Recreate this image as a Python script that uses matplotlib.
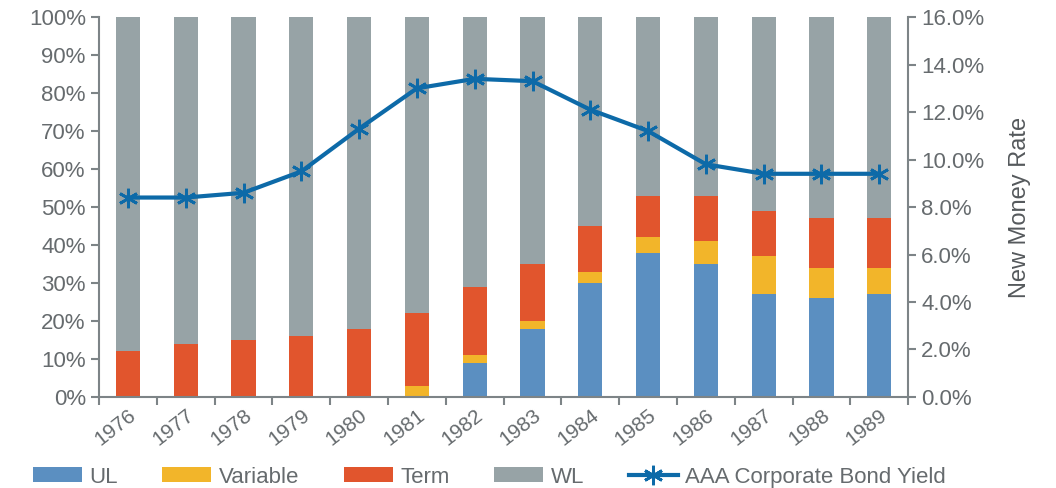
import matplotlib
matplotlib.use("Agg")
import matplotlib.pyplot as plt
import numpy as np
from matplotlib.ticker import FuncFormatter

years = ["1976", "1977", "1978", "1979", "1980", "1981", "1982",
         "1983", "1984", "1985", "1986", "1987", "1988", "1989"]
ul = [0, 0, 0, 0, 0, 0, 9, 18, 30, 38, 35, 27, 26, 27]
variable = [0, 0, 0, 0, 0, 3, 2, 2, 3, 4, 6, 10, 8, 7]
term = [12, 14, 15, 16, 18, 19, 18, 15, 12, 11, 12, 12, 13, 13]
wl = [100 - a - b - c for a, b, c in zip(ul, variable, term)]
aaa_yield = [8.4, 8.4, 8.6, 9.5, 11.3, 13.0, 13.4, 13.3, 12.1, 11.2, 9.8, 9.4, 9.4, 9.4]

C_UL = "#5b8fc1"
C_VAR = "#f2b52a"
C_TERM = "#e1552d"
C_WL = "#97a3a6"
C_LINE = "#0d6aa8"
C_TEXT = "#666b6e"
C_AXIS = "#7d8487"
FS = 16

plt.rcParams["font.family"] = ["Liberation Sans", "DejaVu Sans"]

fig = plt.figure(figsize=(10.56, 4.88), dpi=100)
ax = fig.add_axes([0.0938, 0.1865, 0.7662, 0.7785])

x = np.arange(len(years))
w = 0.42
b1 = ax.bar(x, ul, w, color=C_UL, label="UL")
bottom = np.array(ul, dtype=float)
b2 = ax.bar(x, variable, w, bottom=bottom, color=C_VAR, label="Variable")
bottom += variable
b3 = ax.bar(x, term, w, bottom=bottom, color=C_TERM, label="Term")
bottom += term
b4 = ax.bar(x, wl, w, bottom=bottom, color=C_WL, label="WL")

ax.set_xlim(-0.5, len(years) - 0.5)
ax.set_ylim(0, 100)
ax.set_yticks(np.arange(0, 101, 10))
ax.yaxis.set_major_formatter(FuncFormatter(lambda v, p: f"{v:.0f}%"))

ax.set_xticks(np.arange(-0.5, len(years), 1.0))
ax.set_xticklabels([])
ax.set_xticks(x, minor=True)
ax.set_xticklabels(years, minor=True, rotation=38, ha="right",
                   rotation_mode="anchor")
ax.tick_params(axis="x", which="minor", length=0, pad=6,
               labelsize=15, labelcolor=C_TEXT)
ax.tick_params(axis="x", which="major", length=6, width=1.5, color=C_AXIS)
ax.tick_params(axis="y", length=6, width=1.5, color=C_AXIS,
               labelsize=FS, labelcolor=C_TEXT)

for s in ["top", "right"]:
    ax.spines[s].set_visible(False)
for s in ["left", "bottom"]:
    ax.spines[s].set_color(C_AXIS)
    ax.spines[s].set_linewidth(1.5)

ax2 = ax.twinx()
ax2.set_ylim(0, 16)
ax2.set_yticks(np.arange(0, 16.1, 2))
ax2.yaxis.set_major_formatter(FuncFormatter(lambda v, p: f"{v:.1f}%"))
line, = ax2.plot(x, aaa_yield, color=C_LINE, lw=3, marker=(6, 2, 0),
                 markersize=14, markeredgewidth=2, label="AAA Corporate Bond Yield")
ax2.tick_params(axis="y", length=6, width=1.5, color=C_AXIS,
                labelsize=FS, labelcolor=C_TEXT)
for s in ["top", "left", "bottom"]:
    ax2.spines[s].set_visible(False)
ax2.spines["right"].set_color(C_AXIS)
ax2.spines["right"].set_linewidth(1.5)
ax2.set_ylabel("New Money Rate", fontsize=17, color="#55595c", labelpad=18)

handles = [b1, b2, b3, b4, line]
labels = ["UL", "Variable", "Term", "WL", "AAA Corporate Bond Yield"]
leg = fig.legend(handles, labels, loc="lower left", ncol=5,
                 bbox_to_anchor=(0.012, -0.04), frameon=False,
                 fontsize=FS, handlelength=2.2, handleheight=0.65,
                 columnspacing=2.0, handletextpad=0.35)
for t in leg.get_texts():
    t.set_color(C_TEXT)

fig.savefig("out.png", dpi=100, facecolor="white")
